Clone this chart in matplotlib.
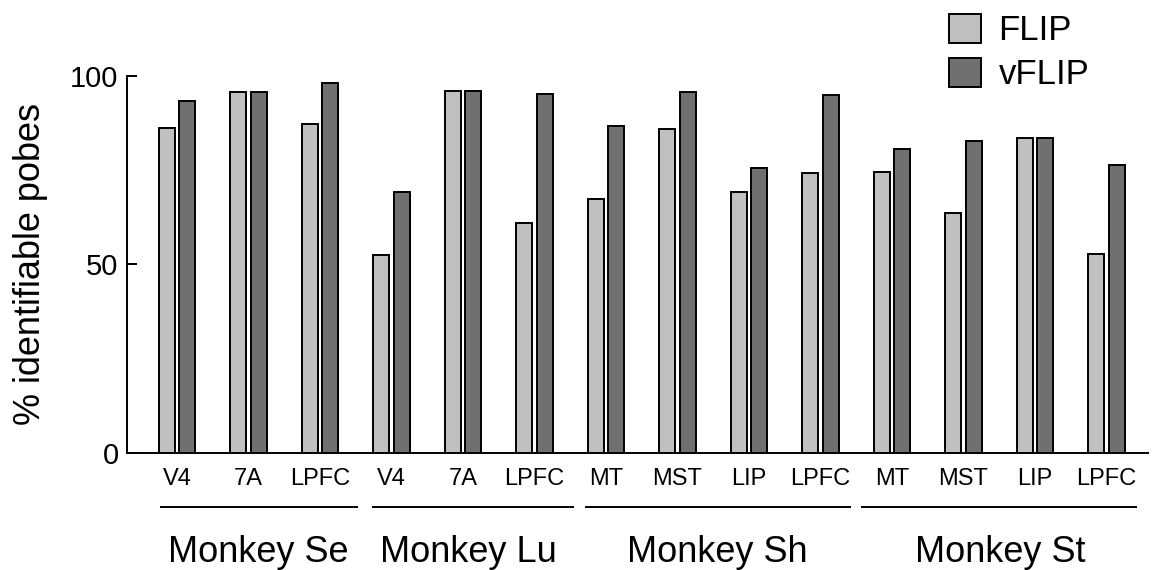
"""FLIP / vFLIP の識別可能プローブ割合を領域ごとに並べた棒グラフ."""
import matplotlib
matplotlib.use('Agg')
import matplotlib.pyplot as plt
from matplotlib.patches import Patch
import numpy as np

plt.rcParams['font.family'] = ['Liberation Sans', 'DejaVu Sans']

# データ
monkeys = ["Monkey Se", "Monkey Lu", "Monkey Sh", "Monkey St"]
areas = [["V4", "7A", "LPFC"],
         ["V4", "7A", "LPFC"],
         ["MT", "MST", "LIP", "LPFC"],
         ["MT", "MST", "LIP", "LPFC"]]
flip = [86.2, 95.7, 87.3,
        52.5, 95.9, 61.0,
        67.3, 85.9, 69.3, 74.2,
        74.5, 63.7, 83.6, 52.7]
vflip = [93.4, 95.7, 98.1,
         69.2, 95.9, 95.1,
         86.7, 95.8, 75.7, 95.0,
         80.6, 82.8, 83.6, 76.3]
series_names = ["FLIP", "vFLIP"]
y_ticks = [0, 50, 100]

# 色
light = "#c0c0c0"
dark = "#707070"

fig = plt.figure(figsize=(11.52, 5.70), dpi=100)
ax = fig.add_axes([0.1102, 0.2053, 0.8863, 0.6614])

tick_labels = [a for group in areas for a in group]
x = np.arange(len(tick_labels))
width = 0.225
offset = 0.145

ax.bar(x - offset, flip, width, color=light, edgecolor="black", linewidth=1.4)
ax.bar(x + offset, vflip, width, color=dark, edgecolor="black", linewidth=1.4)

ax.set_xlim(-0.70, 13.58)
ax.set_ylim(0, 100)
ax.set_yticks(y_ticks)
ax.set_yticklabels([str(v) for v in y_ticks], fontsize=21)
ax.tick_params(axis='y', direction='in', length=7, width=1.4, pad=6)
ax.set_xticks(x)
ax.set_xticklabels(tick_labels, fontsize=17)
ax.tick_params(axis='x', length=0, pad=11)

for side in ["top", "right"]:
    ax.spines[side].set_visible(False)
ax.spines["left"].set_linewidth(1.4)
ax.spines["bottom"].set_linewidth(1.4)

ax.set_ylabel("% identifiable pobes", fontsize=26, labelpad=16)

# 群ごとの下線とラベル
spans = [(-0.22, 2.52), (2.74, 5.54), (5.72, 9.41), (9.58, 13.41)]
label_x = [1.13, 4.07, 7.56, 11.51]
trans = ax.get_xaxis_transform()
for name, (x0, x1), lx in zip(monkeys, spans, label_x):
    ax.plot([x0, x1], [-0.143, -0.143], color="black", lw=1.4,
            transform=trans, clip_on=False)
    ax.text(lx, -0.263, name, fontsize=26, ha="center", va="center",
            transform=trans)

# 凡例
handles = [Patch(facecolor=light, edgecolor="black", linewidth=1.4),
           Patch(facecolor=dark, edgecolor="black", linewidth=1.4)]
fig.legend(handles, series_names, loc="upper left",
           bbox_to_anchor=(0.812, 1.0), frameon=False, fontsize=25,
           handlelength=0.92, handleheight=0.92, handletextpad=0.5,
           labelspacing=0.3, borderaxespad=0)

fig.savefig("out.png", dpi=100)
